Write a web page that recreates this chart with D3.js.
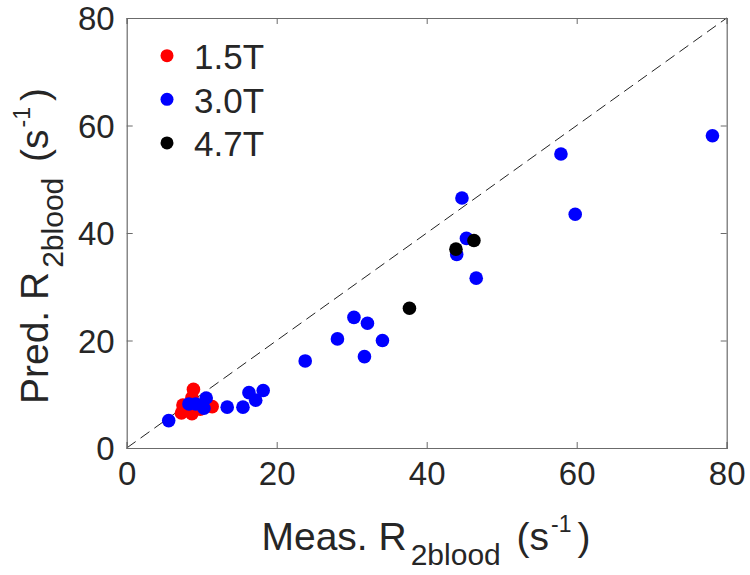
<!DOCTYPE html>
<html><head><meta charset="utf-8">
<script src="https://cdn.jsdelivr.net/npm/d3@7"></script>
<style>
body{margin:0;background:#fff;}
text{font-family:"Liberation Sans",Arial,Helvetica,sans-serif;fill:#262626;}
</style></head>
<body>
<svg id="chart" width="750" height="575"></svg>
<script>
const xTicks = [0, 20, 40, 60, 80];
const yTicks = [0, 20, 40, 60, 80];
const seriesNames = ["1.5T", "3.0T", "4.7T"];
const seriesColors = ["#ff0000", "#0000ff", "#000000"];
const data15 = [[8.9,10.9],[8.7,9.4],[7.5,8.0],[7.3,6.5],[8.7,6.4],[11.4,7.7],[8.0,7.0],[9.8,7.2]];
const data30 = [[5.6,5.1],[8.3,8.2],[9.2,8.2],[10.6,9.3],[10.3,7.4],[13.4,7.6],[15.5,7.6],[16.3,10.3],[17.2,8.9],[18.2,10.7],[23.8,16.2],[28.1,20.3],[30.3,24.3],[32.1,23.2],[31.7,17.0],[34.1,20.0],[44.0,36.0],[44.7,46.5],[45.3,39.0],[46.6,31.6],[57.9,54.7],[59.8,43.5],[78.1,58.1]];
const data47 = [[37.7,26.0],[43.9,37.0],[46.3,38.6]];
const identity = [[0,0],[80,80]];

const svg = d3.select("#chart");
const L = 126.7, R = 726.7, T = 18, B = 448;
const x = d3.scaleLinear().domain([0,80]).range([L,R]);
const y = d3.scaleLinear().domain([0,80]).range([B,T]);
const axisColor = "#6b6b6b";
const tickFont = 33, labelFont = 39, subFont = 30, supFont = 23, legFont = 35;

// identity dashed line
svg.append("path")
  .attr("d", d3.line().x(d=>x(d[0])).y(d=>y(d[1]))(identity))
  .attr("stroke","#222").attr("stroke-width",1).attr("fill","none")
  .attr("stroke-dasharray","11,6");

// points
[data15, data30, data47].forEach((ds,i)=>{
  svg.append("g").selectAll("circle").data(ds).join("circle")
    .attr("cx",d=>x(d[0])).attr("cy",d=>y(d[1])).attr("r",6.8)
    .attr("fill",seriesColors[i]);
});

// axes box
const gB = svg.append("g").attr("transform",`translate(0,${B})`)
  .call(d3.axisBottom(x).tickValues(xTicks).tickSize(-6).tickPadding(14).tickFormat(d3.format("d")));
const gT = svg.append("g").attr("transform",`translate(0,${T})`)
  .call(d3.axisTop(x).tickValues(xTicks).tickSize(-6).tickFormat(""));
const gL = svg.append("g").attr("transform",`translate(${L},0)`)
  .call(d3.axisLeft(y).tickValues(yTicks).tickSize(-6).tickPadding(12).tickFormat(d3.format("d")));
const gR = svg.append("g").attr("transform",`translate(${R},0)`)
  .call(d3.axisRight(y).tickValues(yTicks).tickSize(-6).tickFormat(""));
[gB,gT,gL,gR].forEach(g=>{
  g.select(".domain").attr("stroke",axisColor).attr("stroke-width",1.2);
  g.selectAll(".tick line").attr("stroke",axisColor).attr("stroke-width",1);
  g.selectAll(".tick text").attr("font-size",tickFont).attr("fill","#262626")
    .style("font-family","'Liberation Sans',Arial,sans-serif");
});
gL.selectAll(".tick text").attr("dy","0.36em");
gB.selectAll(".tick text").attr("dy","0.71em");

function label(sel, main){
  sel.append("tspan").text(main);
  sel.append("tspan").attr("font-size",subFont).attr("dy",15).attr("dx",4).text("2blood");
  sel.append("tspan").attr("dy",-15).attr("dx",5).text(" (s");
  sel.append("tspan").attr("font-size",supFont).attr("dy",-18).attr("dx",2).text("-1");
  sel.append("tspan").attr("dy",18).attr("dx",6).text(")");
}
// x label
const xl = svg.append("text").attr("x",426).attr("y",550)
  .attr("text-anchor","middle").attr("font-size",labelFont);
label(xl, "Meas. R");

// y label
const yl = svg.append("text").attr("transform",`translate(48,246) rotate(-90)`)
  .attr("text-anchor","middle").attr("font-size",labelFont);
label(yl, "Pred. R");

// legend
const leg = svg.append("g");
seriesNames.forEach((n,i)=>{
  const cy = 55.7 + i*43.6;
  leg.append("circle").attr("cx",167).attr("cy",cy).attr("r",6.5).attr("fill",seriesColors[i]);
  leg.append("text").attr("x",194).attr("y",cy+13.5).attr("font-size",legFont).text(n);
});
</script>
</body></html>
